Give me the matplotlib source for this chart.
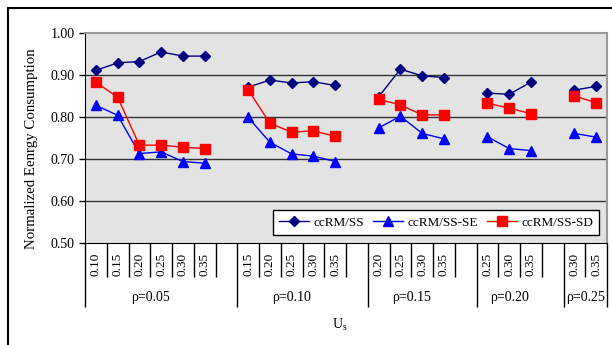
import numpy as np
import matplotlib.pyplot as plt
from matplotlib.patches import Rectangle
from matplotlib.transforms import blended_transform_factory

plt.rcParams['font.family'] = ['Liberation Serif', 'DejaVu Serif']
plt.rcParams['mathtext.fontset'] = 'custom'
plt.rcParams['mathtext.rm'] = 'Liberation Serif'

# ---- data ----
groups = ['ρ=0.05', 'ρ=0.10', 'ρ=0.15', 'ρ=0.20', 'ρ=0.25']
us_labels = [
    ['0.10', '0.15', '0.20', '0.25', '0.30', '0.35'],
    ['0.15', '0.20', '0.25', '0.30', '0.35'],
    ['0.20', '0.25', '0.30', '0.35'],
    ['0.25', '0.30', '0.35'],
    ['0.30', '0.35'],
]
ss = [
    [0.911, 0.929, 0.932, 0.955, 0.945, 0.945],
    [0.871, 0.888, 0.881, 0.884, 0.875],
    [0.848, 0.914, 0.898, 0.894],
    [0.857, 0.854, 0.883],
    [0.864, 0.873],
]
se = [
    [0.828, 0.804, 0.713, 0.717, 0.694, 0.690],
    [0.799, 0.740, 0.712, 0.707, 0.694],
    [0.774, 0.802, 0.761, 0.748],
    [0.753, 0.725, 0.720],
    [0.761, 0.752],
]
sd = [
    [0.883, 0.847, 0.733, 0.733, 0.728, 0.725],
    [0.865, 0.785, 0.764, 0.767, 0.754],
    [0.842, 0.829, 0.805, 0.805],
    [0.833, 0.821, 0.808],
    [0.850, 0.834],
]

W, H = 612, 345
fig = plt.figure(figsize=(W / 100, H / 100), dpi=100)
ax = fig.add_axes([85 / W, (H - 243) / H, (607 - 85) / W, 210 / H])
ax.set_facecolor('#e3e3e3')

# category positions: each group followed by one empty slot (except the last)
positions = []
bounds = [0]
start = 0
for gi, labs in enumerate(us_labels):
    positions.append([start + k + 0.5 for k in range(len(labs))])
    start += len(labs) + (1 if gi < len(us_labels) - 1 else 0)
    bounds.append(start)
n_cat = start

for gi in range(len(groups)):
    x = positions[gi]
    ax.plot(x, ss[gi], color='#000080', marker='D', ms=5, lw=1,
            label='ccRM/SS' if gi == 0 else None, zorder=3)
    ax.plot(x, se[gi], color='#0000ff', marker='^', ms=7, lw=1,
            label='ccRM/SS-SE' if gi == 0 else None, zorder=4)
    ax.plot(x, sd[gi], color='#ff0000', marker='s', ms=7, lw=1,
            label='ccRM/SS-SD' if gi == 0 else None, zorder=5)

ax.set_xlim(0, n_cat)
ax.set_ylim(0.5, 1.0)
ax.set_yticks(np.arange(0.5, 1.01, 0.1))
ax.set_yticklabels([f'{v:.2f}' for v in np.arange(0.5, 1.01, 0.1)], fontsize=10)
ax.tick_params(axis='y', length=4, width=1, color='black')
for v in [0.6, 0.7, 0.8, 0.9]:
    ax.axhline(v, color='#333333', lw=1, zorder=1)

# x ticks: long at group boundaries, short at every slot boundary
ax.set_xticks(bounds)
ax.set_xticklabels([])
ax.set_xticks(np.arange(0, n_cat + 1), minor=True)
ax.tick_params(axis='x', which='major', length=46, width=1, color='black', direction='out')
ax.tick_params(axis='x', which='minor', length=24.5, width=1, color='black', direction='out')

for side in ['top', 'right']:
    ax.spines[side].set_color('#999999')
    ax.spines[side].set_linewidth(1.5)
ax.spines['left'].set_color('black')
ax.spines['bottom'].set_color('black')

tr = blended_transform_factory(ax.transData, ax.transAxes)
for gi, labs in enumerate(us_labels):
    for x, lab in zip(positions[gi], labs):
        ax.text(x, -0.1, lab, transform=tr, rotation=90, ha='center', va='center',
                fontsize=9.5)
    center = (bounds[gi] + bounds[gi] + len(labs)) / 2
    if gi == len(groups) - 1:
        center = (bounds[gi] + bounds[gi + 1]) / 2
    ax.text(center, -0.26, groups[gi], transform=tr, ha='center', va='center',
            fontsize=10)

fig.text(340 / W, (H - 325) / H, r'U$_\mathregular{s}$', ha='center', va='center',
         fontsize=10)
ax.set_ylabel('Normalized Eenrgy Consumption', fontsize=10.7)
ax.yaxis.set_label_coords(-0.09, 0.45)

ax.legend(loc='lower right', bbox_to_anchor=(0.985, 0.04), ncol=3, fontsize=9.5,
          frameon=True, fancybox=False, edgecolor='black', facecolor='white',
          framealpha=1, handlelength=2.3, handletextpad=0.3, columnspacing=0.7,
          borderpad=0.45, borderaxespad=0)

fig.patches.append(Rectangle((8 / W, -0.1), 1.0, (H - 8) / H + 0.1,
                             transform=fig.transFigure, fill=False,
                             edgecolor='black', lw=1.5))

fig.savefig('out.png', dpi=100)
